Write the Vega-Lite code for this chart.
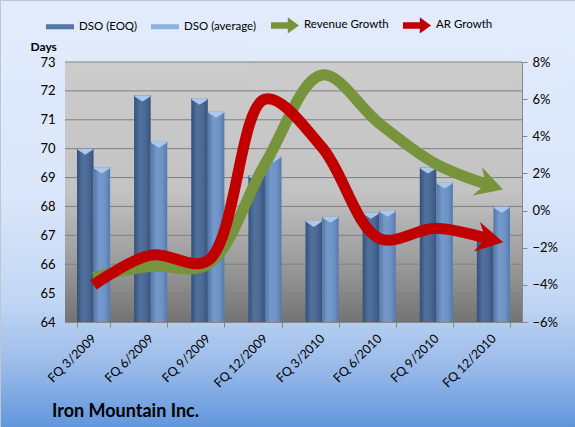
{
  "$schema": "https://vega.github.io/schema/vega-lite/v6.json",
  "width": 575,
  "height": 427,
  "autosize": {"type": "none"},
  "padding": 0,
  "background": "#c8daf5",
  "config": {
    "font": "Lato",
    "view": {
      "fill": {"gradient": "linear", "x1": 0, "y1": 0, "x2": 0, "y2": 1,
        "stops": [
          {"offset": 0, "color": "#e2ecfc"},
          {"offset": 0.45, "color": "#dae6fa"},
          {"offset": 0.7, "color": "#c2d7f4"},
          {"offset": 0.85, "color": "#9cbce9"},
          {"offset": 1, "color": "#6196dc"}
        ]},
      "stroke": "#bcc6d4",
      "strokeWidth": 1
    },
    "axis": {"labelFont": "Lato", "labelColor": "#000000", "domainColor": "#868686", "tickColor": "#868686", "grid": false}
  },
  "title": {"text": "Iron Mountain Inc.", "orient": "bottom", "anchor": "start", "offset": -24, "dx": 52, "fontSize": 18, "fontWeight": "bold", "font": "Lato", "color": "#000000", "frame": "group"},
  "data": {"values": [
    {"q": "FQ 3/2009", "series": "DSO (EOQ)", "value": 70.0},
    {"q": "FQ 3/2009", "series": "DSO (average)", "value": 69.35},
    {"q": "FQ 6/2009", "series": "DSO (EOQ)", "value": 71.84},
    {"q": "FQ 6/2009", "series": "DSO (average)", "value": 70.24},
    {"q": "FQ 9/2009", "series": "DSO (EOQ)", "value": 71.73},
    {"q": "FQ 9/2009", "series": "DSO (average)", "value": 71.28},
    {"q": "FQ 12/2009", "series": "DSO (EOQ)", "value": 69.07},
    {"q": "FQ 12/2009", "series": "DSO (average)", "value": 69.74},
    {"q": "FQ 3/2010", "series": "DSO (EOQ)", "value": 67.5},
    {"q": "FQ 3/2010", "series": "DSO (average)", "value": 67.64},
    {"q": "FQ 6/2010", "series": "DSO (EOQ)", "value": 67.78},
    {"q": "FQ 6/2010", "series": "DSO (average)", "value": 67.85},
    {"q": "FQ 9/2010", "series": "DSO (EOQ)", "value": 69.35},
    {"q": "FQ 9/2010", "series": "DSO (average)", "value": 68.83},
    {"q": "FQ 12/2010", "series": "DSO (EOQ)", "value": 67.13},
    {"q": "FQ 12/2010", "series": "DSO (average)", "value": 67.99},
    {"q": "FQ 3/2009", "series": "Revenue Growth", "value": -0.036},
    {"q": "FQ 6/2009", "series": "Revenue Growth", "value": -0.030},
    {"q": "FQ 9/2009", "series": "Revenue Growth", "value": -0.029},
    {"q": "FQ 12/2009", "series": "Revenue Growth", "value": 0.025},
    {"q": "FQ 3/2010", "series": "Revenue Growth", "value": 0.073},
    {"q": "FQ 6/2010", "series": "Revenue Growth", "value": 0.047},
    {"q": "FQ 9/2010", "series": "Revenue Growth", "value": 0.025},
    {"q": "FQ 12/2010", "series": "Revenue Growth", "value": 0.013},
    {"q": "FQ 3/2009", "series": "AR Growth", "value": -0.040},
    {"q": "FQ 6/2009", "series": "AR Growth", "value": -0.024},
    {"q": "FQ 9/2009", "series": "AR Growth", "value": -0.027},
    {"q": "FQ 12/2009", "series": "AR Growth", "value": 0.060},
    {"q": "FQ 3/2010", "series": "AR Growth", "value": 0.034},
    {"q": "FQ 6/2010", "series": "AR Growth", "value": -0.015},
    {"q": "FQ 9/2010", "series": "AR Growth", "value": -0.0095},
    {"q": "FQ 12/2010", "series": "AR Growth", "value": -0.016}
  ]},
  "layer": [
    {
      "layer": [
        {
          "data": {"values": [{"top": 73, "bottom": 64}]},
          "mark": {"type": "rect", "fill": {"gradient": "linear", "x1": 0, "y1": 0, "x2": 0, "y2": 1,
            "stops": [
              {"offset": 0, "color": "#cccccc"},
              {"offset": 0.5, "color": "#c3c3c3"},
              {"offset": 0.56, "color": "#bababa"},
              {"offset": 0.78, "color": "#9a9a9a"},
              {"offset": 1, "color": "#737373"}
            ]}},
          "encoding": {
            "x": {"value": {"expr": "range('x')[0]"}},
            "x2": {"value": {"expr": "range('x')[1]"}},
            "y": {"field": "top", "type": "quantitative", "title": "Days"},
            "y2": {"field": "bottom"}
          }
        },
        {
          "data": {"values": [{"t": 65}, {"t": 66}, {"t": 67}, {"t": 68}, {"t": 69}, {"t": 70}, {"t": 71}, {"t": 72}, {"t": 73}]},
          "mark": {"type": "rule", "color": "#808080", "strokeWidth": 1},
          "encoding": {
            "x": {"value": {"expr": "range('x')[0]"}},
            "x2": {"value": {"expr": "range('x')[1]"}},
            "y": {"field": "t", "type": "quantitative", "title": "Days"}
          }
        },
        {
          "transform": [{"filter": "datum.series == 'DSO (EOQ)'"}],
          "mark": {"type": "bar", "fill": {"gradient": "linear", "x1": 0, "y1": 0, "x2": 1, "y2": 0,
            "stops": [
              {"offset": 0, "color": "#34507a"},
              {"offset": 0.35, "color": "#51719d"},
              {"offset": 0.7, "color": "#4a6893"},
              {"offset": 1, "color": "#37537d"}
            ]}},
          "encoding": {
            "x": {"field": "q", "type": "nominal", "sort": ["FQ 3/2009", "FQ 6/2009", "FQ 9/2009", "FQ 12/2009", "FQ 3/2010", "FQ 6/2010", "FQ 9/2010", "FQ 12/2010"],
              "scale": {"range": [65, 522], "paddingInner": 0.42, "paddingOuter": 0.21},
              "axis": {"orient": "bottom", "offset": -105, "title": null, "labelAngle": -45, "labelAlign": "right", "labelBaseline": "middle", "labelPadding": 9, "tickBand": "extent", "tickSize": 5, "labelFontSize": 12.5}},
            "xOffset": {"field": "series", "type": "nominal", "scale": {"domain": ["DSO (EOQ)", "DSO (average)"], "paddingInner": 0, "paddingOuter": 0}},
            "y": {"field": "value", "type": "quantitative", "title": "Days",
              "scale": {"domain": [64, 73], "range": [322, 62], "nice": false, "zero": false},
              "axis": {"orient": "left", "offset": -65, "title": "Days", "titleAngle": 0, "titleX": -35, "titleY": 50, "titleAlign": "left", "titleBaseline": "alphabetic", "titleFontWeight": "bold", "titleFontSize": 12, "titleFont": "Lato", "titleColor": "#000000", "ticks": false, "labelPadding": 10, "labelFontSize": 13, "values": [64, 65, 66, 67, 68, 69, 70, 71, 72, 73]}},
            "y2": {"datum": 64}
          }
        },
        {
          "transform": [{"filter": "datum.series == 'DSO (average)'"}],
          "mark": {"type": "bar", "fill": {"gradient": "linear", "x1": 0, "y1": 0, "x2": 1, "y2": 0,
            "stops": [
              {"offset": 0, "color": "#5577a8"},
              {"offset": 0.35, "color": "#7499cb"},
              {"offset": 0.7, "color": "#6d92c4"},
              {"offset": 1, "color": "#5879aa"}
            ]}},
          "encoding": {
            "x": {"field": "q", "type": "nominal", "sort": ["FQ 3/2009", "FQ 6/2009", "FQ 9/2009", "FQ 12/2009", "FQ 3/2010", "FQ 6/2010", "FQ 9/2010", "FQ 12/2010"]},
            "xOffset": {"field": "series", "type": "nominal"},
            "y": {"field": "value", "type": "quantitative", "title": "Days"},
            "y2": {"datum": 64}
          }
        },
        {
          "transform": [{"filter": "datum.series == 'DSO (EOQ)' || datum.series == 'DSO (average)'"}],
          "mark": {"type": "point", "shape": "M-0.95,0L0.95,0L0.95,0.15L0,0.75L-0.95,0.15Z", "size": 256, "filled": true, "fill": "#a9c8ec", "opacity": 1, "strokeWidth": 0},
          "encoding": {
            "x": {"field": "q", "type": "nominal", "sort": ["FQ 3/2009", "FQ 6/2009", "FQ 9/2009", "FQ 12/2009", "FQ 3/2010", "FQ 6/2010", "FQ 9/2010", "FQ 12/2010"]},
            "xOffset": {"field": "series", "type": "nominal"},
            "y": {"field": "value", "type": "quantitative", "title": "Days"}
          }
        }
      ]
    },
    {
      "layer": [
        {
          "transform": [{"filter": "datum.series == 'Revenue Growth'"}],
          "mark": {"type": "line", "interpolate": "catmull-rom", "strokeWidth": 11, "strokeCap": "butt"},
          "encoding": {
            "x": {"field": "q", "type": "nominal", "sort": ["FQ 3/2009", "FQ 6/2009", "FQ 9/2009", "FQ 12/2009", "FQ 3/2010", "FQ 6/2010", "FQ 9/2010", "FQ 12/2010"]},
            "y": {"field": "value", "type": "quantitative", "title": null,
              "scale": {"domain": [-0.06, 0.08], "range": [322, 62], "nice": false, "zero": false},
              "axis": {"orient": "right", "offset": -53, "format": ".0%", "title": null, "tickSize": 5, "labelPadding": 5, "labelFontSize": 13, "values": [-0.06, -0.04, -0.02, 0, 0.02, 0.04, 0.06, 0.08]}},
            "color": {"field": "series", "type": "nominal",
              "scale": {"domain": ["DSO (EOQ)", "DSO (average)", "Revenue Growth", "AR Growth"], "range": ["#5677a3", "#8cb1e0", "#77933c", "#c00000"]},
              "legend": {"orient": "none", "legendX": 46, "legendY": 11, "direction": "horizontal", "title": null, "padding": 0,
                "symbolSize": 784, "symbolType": "M-1,-0.18H1V0.18H-1Z", "labelOffset": 5, "columnPadding": 14, "labelFontSize": 11.5, "labelFont": "Lato", "labelColor": "#000000",
                "encode": {"symbols": {"update": {
                  "shape": {"signal": "datum.value == 'Revenue Growth' || datum.value == 'AR Growth' ? 'M-1,-0.23H0.2V-0.58L1,0L0.2,0.58V0.23H-1Z' : 'M-1,-0.18H1V0.18H-1Z'"},
                  "fill": {"signal": "scale('color', datum.value)"},
                  "stroke": {"value": "transparent"},
                  "strokeWidth": {"value": 0},
                  "opacity": {"value": 1}
                }}}}}
          }
        },
        {
          "transform": [{"filter": "datum.series == 'AR Growth'"}],
          "mark": {"type": "line", "interpolate": "catmull-rom", "strokeWidth": 11, "strokeCap": "butt"},
          "encoding": {
            "x": {"field": "q", "type": "nominal", "sort": ["FQ 3/2009", "FQ 6/2009", "FQ 9/2009", "FQ 12/2009", "FQ 3/2010", "FQ 6/2010", "FQ 9/2010", "FQ 12/2010"]},
            "y": {"field": "value", "type": "quantitative", "title": null},
            "color": {"field": "series", "type": "nominal"}
          }
        },
        {
          "transform": [{"filter": "datum.series == 'Revenue Growth' && datum.q == 'FQ 12/2010'"}],
          "mark": {"type": "point", "shape": "M0.59,0L-1,-0.88L-0.47,0L-1,0.88Z", "size": 1156, "filled": true, "opacity": 1, "strokeWidth": 0, "angle": 18},
          "encoding": {
            "x": {"field": "q", "type": "nominal", "sort": ["FQ 3/2009", "FQ 6/2009", "FQ 9/2009", "FQ 12/2009", "FQ 3/2010", "FQ 6/2010", "FQ 9/2010", "FQ 12/2010"]},
            "y": {"field": "value", "type": "quantitative", "title": null},
            "color": {"field": "series", "type": "nominal"}
          }
        },
        {
          "transform": [{"filter": "datum.series == 'AR Growth' && datum.q == 'FQ 12/2010'"}],
          "mark": {"type": "point", "shape": "M0.59,0L-1,-0.88L-0.47,0L-1,0.88Z", "size": 1156, "filled": true, "opacity": 1, "strokeWidth": 0, "angle": 12},
          "encoding": {
            "x": {"field": "q", "type": "nominal", "sort": ["FQ 3/2009", "FQ 6/2009", "FQ 9/2009", "FQ 12/2009", "FQ 3/2010", "FQ 6/2010", "FQ 9/2010", "FQ 12/2010"]},
            "y": {"field": "value", "type": "quantitative", "title": null},
            "color": {"field": "series", "type": "nominal"}
          }
        }
      ]
    }
  ],
  "resolve": {"scale": {"y": "independent"}, "axis": {"y": "independent"}}
}
